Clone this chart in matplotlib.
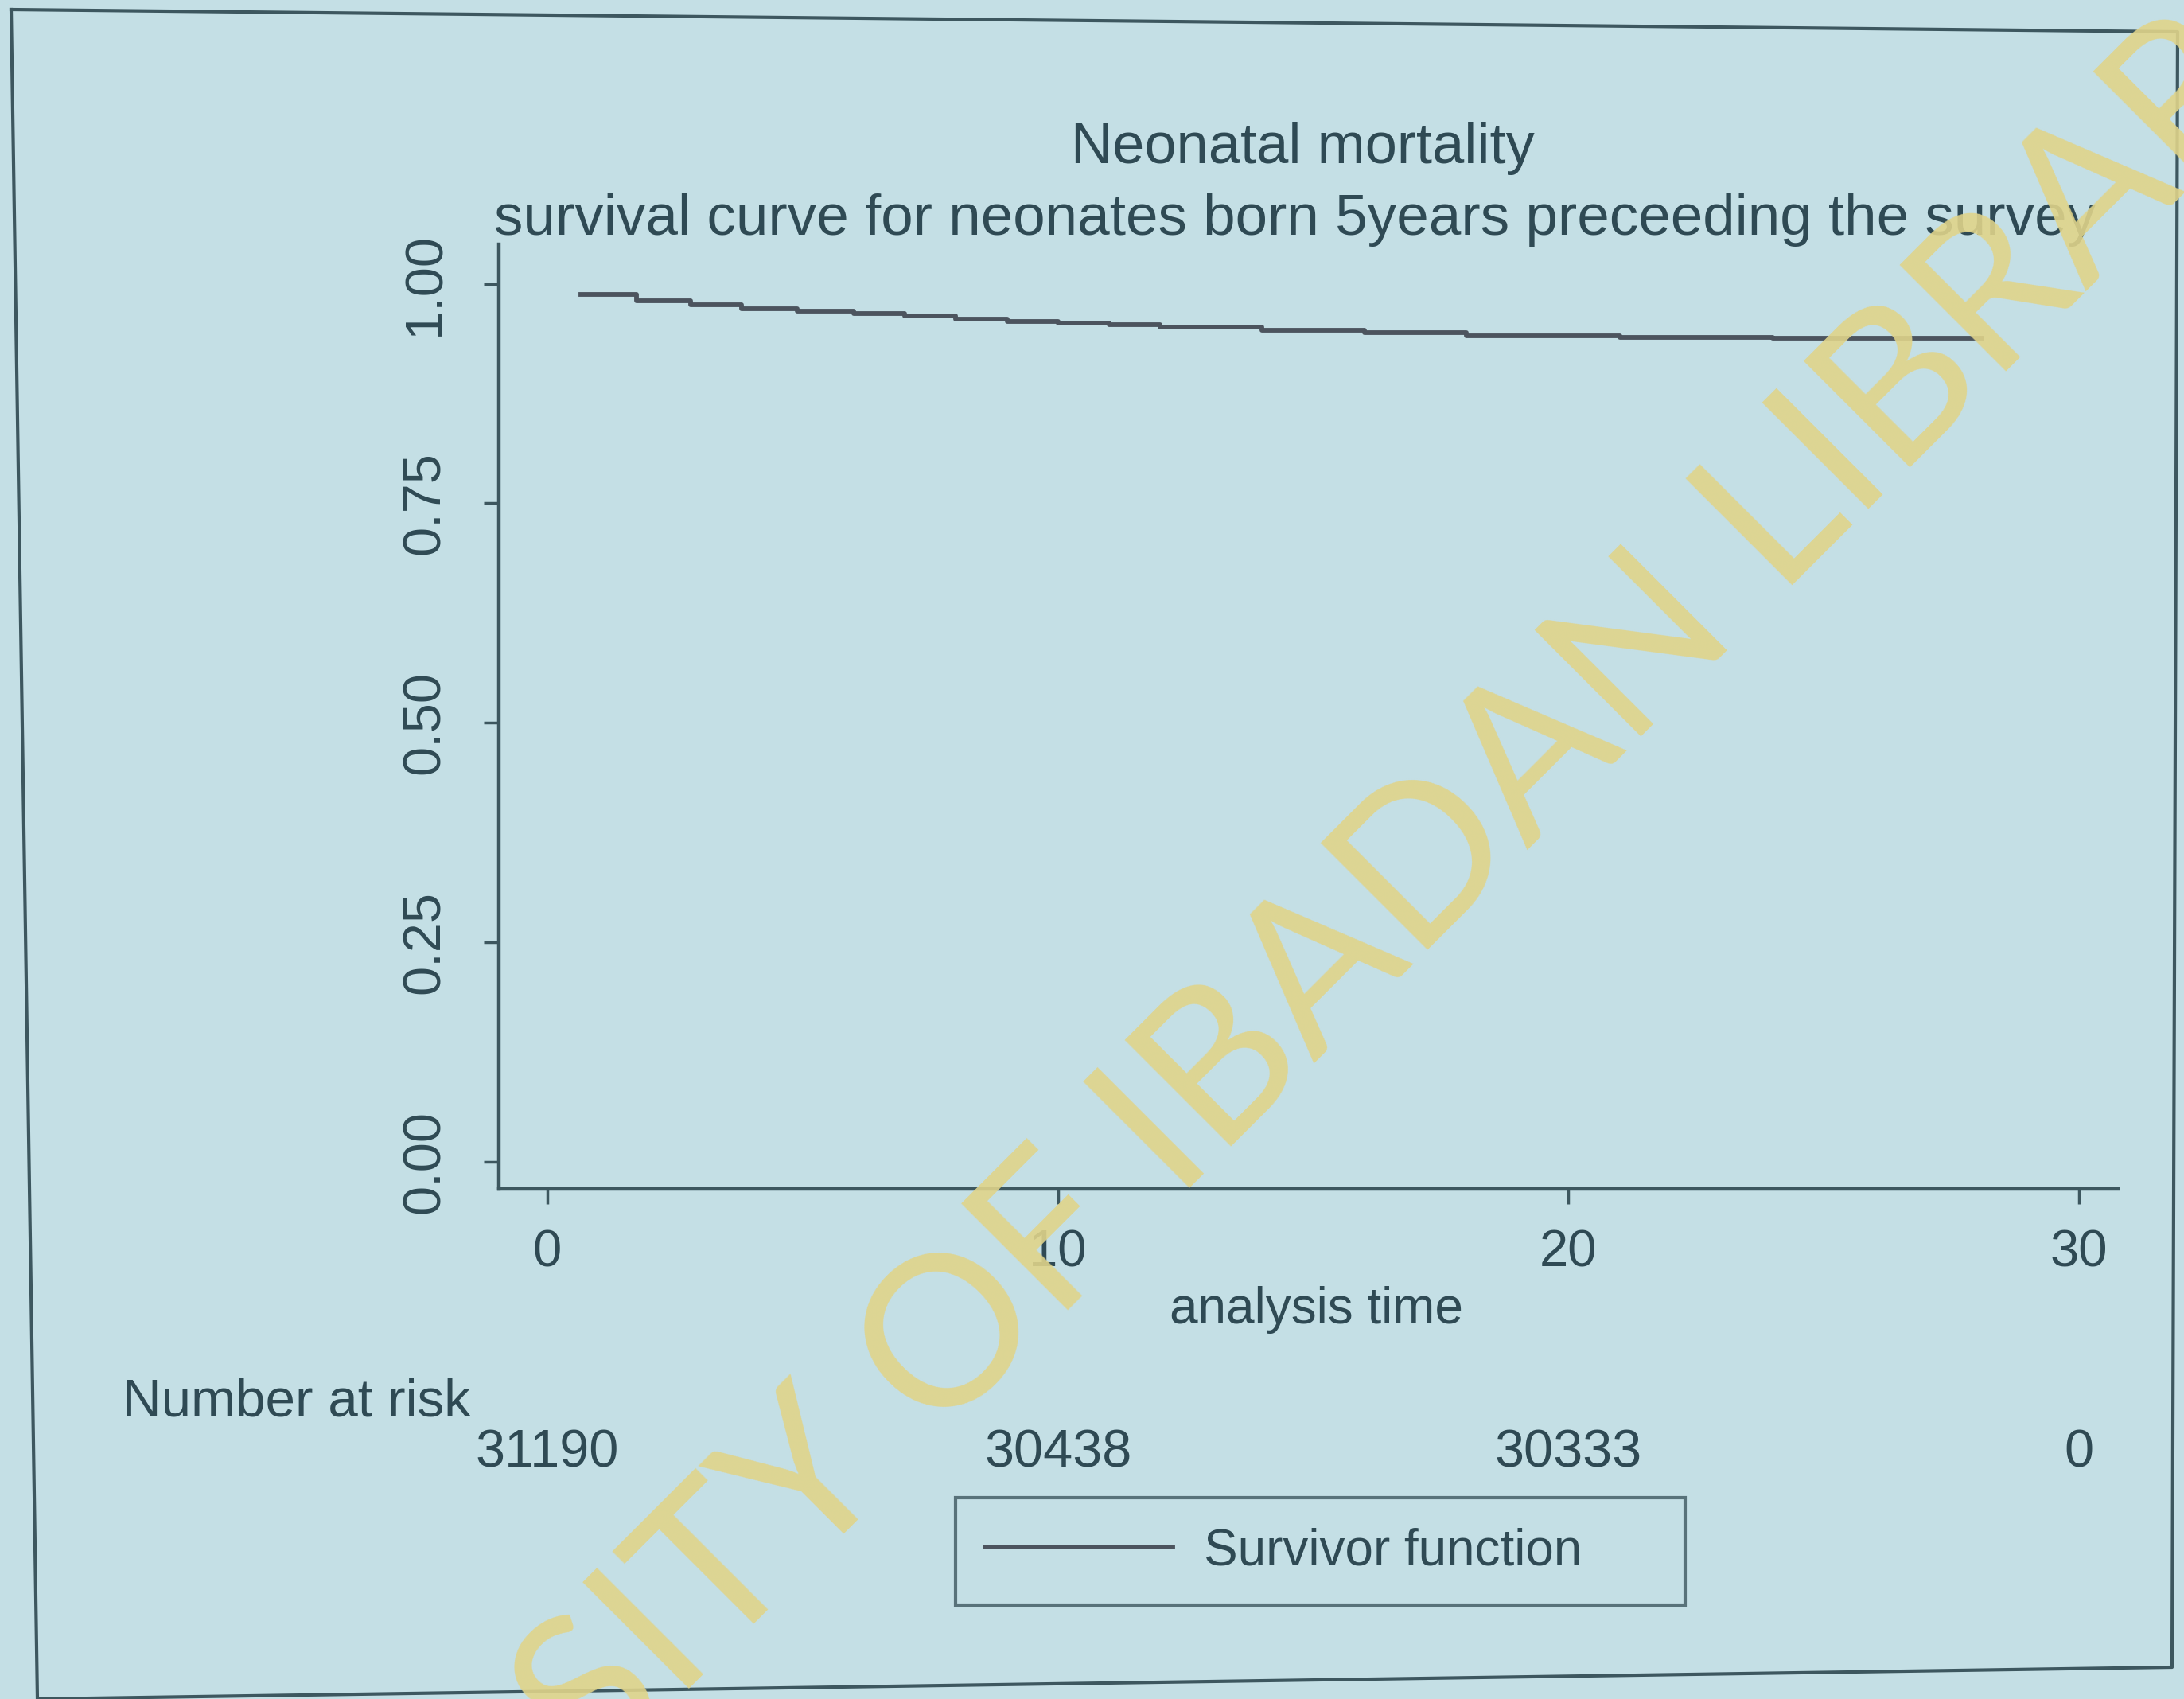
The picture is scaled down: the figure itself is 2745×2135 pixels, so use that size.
import matplotlib
matplotlib.use("Agg")
import matplotlib.pyplot as plt
import matplotlib.transforms as mtransforms
from matplotlib.lines import Line2D

# Kaplan-Meier survivor estimate (days since birth)
days = [0.65, 1.75, 2.8, 3.8, 4.9, 6, 7, 8, 9, 10, 11, 12, 14, 16, 18, 21, 24, 28.1]
surv = [0.988, 0.981, 0.976, 0.972, 0.969, 0.966, 0.963, 0.960, 0.957, 0.955,
        0.953, 0.951, 0.947, 0.944, 0.941, 0.939, 0.938, 0.938]

xticks = [0, 10, 20, 30]
yticks = [0.0, 0.25, 0.5, 0.75, 1.0]
ytick_labels = ["0.00", "0.25", "0.50", "0.75", "1.00"]
risk_times = [0, 10, 20, 30]
risk_counts = [31190, 30438, 30333, 0]

title = "Neonatal mortality"
subtitle = "survival curve for neonates born 5years preceeding the survey"
watermark = "UNIVERSITY OF IBADAN LIBRARY"

bg = "#c4dfe5"
ink = "#2f4a54"
axis_col = "#3d575f"
curve_col = "#4c545e"

plt.rcParams["font.family"] = ["Liberation Sans", "DejaVu Sans"]

W, H = 2745, 2135
fig = plt.figure(figsize=(W / 100, H / 100), dpi=100, facecolor=bg)


def fx(px):
    return px / W


def fy(py):
    return 1 - py / H


ax = fig.add_axes([fx(627), fy(1494), fx(2662) - fx(627), fy(307) - fy(1494)])
ax.set_facecolor(bg)
ax.plot(days, surv, drawstyle="steps-post", color=curve_col, lw=4.2,
        label="Survivor function")

ax.set_xlim(-0.95, 30.76)
ax.set_ylim(-0.031, 1.045)
for s in ["top", "right"]:
    ax.spines[s].set_visible(False)
for s in ["left", "bottom"]:
    ax.spines[s].set_color(axis_col)
    ax.spines[s].set_linewidth(3.2)

ax.set_xticks(xticks)
ax.set_yticks(yticks)
ax.set_yticklabels(ytick_labels)
ax.tick_params(axis="both", direction="out", length=14, width=2.5,
               colors=axis_col, labelcolor=ink)
ax.tick_params(axis="x", labelsize=47, pad=22)
ax.tick_params(axis="y", labelsize=48, pad=30, labelrotation=90)
for lab in ax.get_yticklabels():
    lab.set_va("center")

# titles and axis title
fig.text(fx(1637), fy(205), title, ha="center", va="baseline",
         fontsize=52, color=ink)
fig.text(fx(1628), fy(295), subtitle, ha="center", va="baseline",
         fontsize=52.5, color=ink)
fig.text(fx(1654), fy(1646), "analysis time", ha="center", va="center",
         fontsize=46, color=ink)

# number at risk table
fig.text(fx(154), fy(1763), "Number at risk", ha="left", va="center",
         fontsize=48.5, color=ink)
blend = mtransforms.blended_transform_factory(ax.transData, fig.transFigure)
for t, n in zip(risk_times, risk_counts):
    ax.text(t, fy(1826), str(n), transform=blend, ha="center", va="center",
            fontsize=48, color=ink, clip_on=False)

# legend box under the table
leg = ax.legend(loc="center", bbox_to_anchor=(fx(1201), fy(2017), fx(917), 135 / H),
                bbox_transform=fig.transFigure, mode="expand", borderaxespad=0,
                fontsize=46, handlelength=3.7, handletextpad=0.6,
                borderpad=0.58, fancybox=False, frameon=True)
leg.get_frame().set_facecolor(bg)
leg.get_frame().set_edgecolor(axis_col)
leg.get_frame().set_linewidth(3)
for txt in leg.get_texts():
    txt.set_color(ink)

# outer graph-region border (photo is slightly skewed)
bx = [fx(14), fx(2737), fx(2730), fx(47), fx(14)]
by = [fy(12), fy(40), fy(2095), fy(2135), fy(12)]
fig.add_artist(Line2D(bx, by, transform=fig.transFigure, color=axis_col, lw=3))

# library watermark
fig.text(fx(1523), fy(1465), watermark, ha="center", va="baseline",
         rotation=45, rotation_mode="anchor", fontsize=190,
         family=["Lato", "DejaVu Sans"], color="#e0d48a", alpha=0.9, zorder=10)

fig.savefig("out.png", dpi=100, facecolor=bg)
